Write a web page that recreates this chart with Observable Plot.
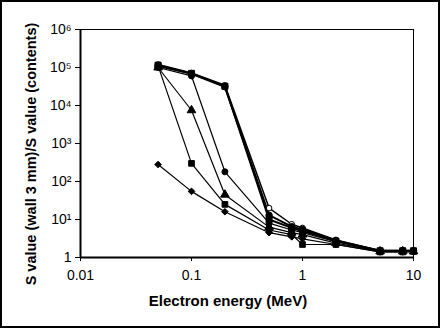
<!DOCTYPE html>
<html>
<head>
<meta charset="utf-8">
<script src="https://cdn.jsdelivr.net/npm/d3@7"></script>
<script src="https://cdn.jsdelivr.net/npm/@observablehq/plot@0.6"></script>
<style>
  html, body { margin: 0; padding: 0; background: #fff; }
  #chart svg { display: block; outline: 2px solid #000; outline-offset: -2px; }
</style>
</head>
<body>
<div id="chart"></div>
<script>
const energies = [0.05, 0.1, 0.2, 0.5, 0.8, 1, 2, 5, 8, 10];

const seriesDiamond  = [280, 55, 16, 4.5, 3.5, 3.1, 2.2, 1.4, 1.4, 1.4];
const seriesSquare   = [110000, 300, 25, 5.3, 4.0, 2.2, 2.2, 1.4, 1.4, 1.45];
const seriesTriangle = [100000, 7500, 45, 6.3, 4.5, 4.0, 2.4, 1.45, 1.45, 1.45];
const seriesCircle   = [100000, 60000, 180, 8, 5.3, 4.5, 2.6, 1.5, 1.5, 1.5];
const seriesSquareB  = [115000, 70000, 32000, 10, 6, 5, 2.7, 1.5, 1.5, 1.5];
const seriesCircleB  = [110000, 68000, 31000, 13, 6.5, 5.5, 2.8, 1.5, 1.5, 1.5];
const seriesOpen     = [120000, 72000, 34000, 20, 7.5, 6, 2.9, 1.5, 1.5, 1.5];

const yTicks = [1, 10, 100, 1000, 10000, 100000, 1000000];
const yTickLabels = ["1", "10\u00B9", "10\u00B2", "10\u00B3", "10\u2074", "10\u2075", "10\u2076"];
const xTicks = [0.01, 0.1, 1, 10];
const xTickLabels = ["0.01", "0.1", "1", "10"];

const defs = [
  {name: "open", values: seriesOpen, symbol: "circle", fill: "white", sw: 1.5, r: 2.8},
  {name: "diamond", values: seriesDiamond, symbol: "diamond2", fill: "black", sw: 1.2, r: 3},
  {name: "square", values: seriesSquare, symbol: "square", fill: "black", sw: 1.2, r: 3.2},
  {name: "triangle", values: seriesTriangle, symbol: "triangle", fill: "black", sw: 1.2, r: 3.2},
  {name: "circle", values: seriesCircle, symbol: "circle", fill: "black", sw: 1.2, r: 3},
  {name: "squareB", values: seriesSquareB, symbol: "square", fill: "black", sw: 2, r: 3.4},
  {name: "circleB", values: seriesCircleB, symbol: "circle", fill: "black", sw: 2, r: 3.2}
];

const rows = defs.flatMap(d => energies.map((e, i) => ({series: d.name, x: e, y: d.values[i]})));

const font = "'Liberation Sans', Arial, sans-serif";

const marks = [];
for (const d of defs) {
  const data = rows.filter(r => r.series === d.name);
  marks.push(Plot.line(data, {x: "x", y: "y", stroke: "black", strokeWidth: d.sw}));
}
for (const d of defs) {
  const data = rows.filter(r => r.series === d.name);
  marks.push(Plot.dot(data, {x: "x", y: "y", symbol: () => d.symbol, fill: d.fill, stroke: "black", strokeWidth: 1, r: d.r}));
}

const plot = Plot.plot({
  width: 440,
  height: 328,
  marginLeft: 80,
  marginRight: 27,
  marginTop: 29,
  marginBottom: 71,
  style: {fontFamily: font, fontSize: "14px", color: "black", background: "white", overflow: "visible"},
  x: {type: "log", domain: [0.01, 10], label: null},
  y: {type: "log", domain: [1, 1000000], label: null},
  symbol: {type: "identity"},
  marks: [
    Plot.frame({stroke: "black", strokeWidth: 1}),
    Plot.axisX({ticks: xTicks, tickFormat: (d) => xTickLabels[xTicks.indexOf(d)], tickSize: 4, tickPadding: 9, fontSize: 14, label: null}),
    Plot.axisY({ticks: yTicks, tickFormat: (d) => yTickLabels[yTicks.indexOf(d)], tickSize: 5, tickPadding: 4, fontSize: 14, label: null}),
    ...marks,
    Plot.ruleY([1], {stroke: "black", strokeWidth: 2}),
    Plot.ruleX([0.01], {stroke: "black", strokeWidth: 2})
  ]
});

const svg = d3.select(plot);
svg.append("text")
  .attr("x", 228).attr("y", 306)
  .attr("text-anchor", "middle")
  .attr("font-family", font)
  .attr("font-weight", "bold")
  .attr("font-size", 15)
  .attr("fill", "black")
  .text("Electron energy (MeV)");
svg.append("text")
  .attr("transform", "translate(32,154) rotate(-90)")
  .attr("text-anchor", "middle")
  .attr("dominant-baseline", "middle")
  .attr("font-family", font)
  .attr("font-weight", "bold")
  .attr("font-size", 14.5)
  .attr("fill", "black")
  .text("S value (wall 3 mm)/S value (contents)");

document.getElementById("chart").appendChild(plot);
</script>
</body>
</html>
